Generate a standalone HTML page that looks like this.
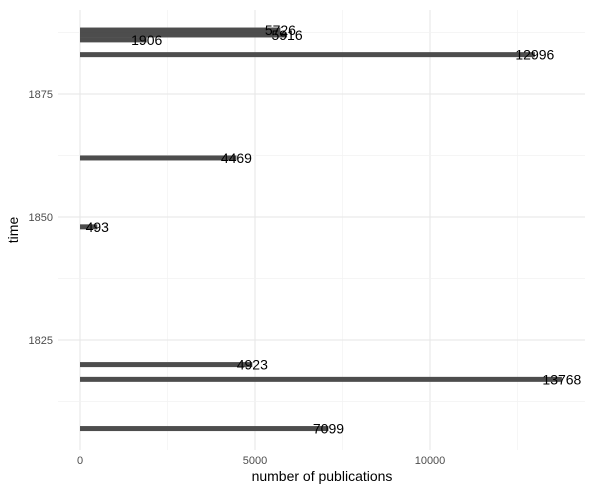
<!DOCTYPE html>
<html><head><meta charset="utf-8"><style>
body{margin:0;background:#fff;}
svg{display:block;font-family:"Liberation Sans",sans-serif;}
</style></head><body>
<svg id="chart" width="592" height="494" viewBox="0 0 592 494">
<g id="grid"></g>
<g id="bars"></g>
<g id="labels"></g>
<g id="axes"></g>
<text x="322" y="481" text-anchor="middle" font-size="14" fill="#000">number of publications</text>
<text transform="translate(18,230) rotate(-90)" text-anchor="middle" font-size="14" fill="#000">time</text>
</svg>
<script>
const years=[1888,1887,1886,1883,1862,1848,1820,1817,1807];
const counts=[5726,5916,1906,12996,4469,493,4923,13768,7099];
const xTicks=[0,5000,10000];
const yTicks=[1825,1850,1875];
const ns="http://www.w3.org/2000/svg";
const X=v=>80+v*0.035;
const Y=t=>217-(t-1850)*4.92;
const L=58,R=585,T=10,B=450;
function mk(tag,attrs,parent){const e=document.createElementNS(ns,tag);for(const k in attrs)e.setAttribute(k,attrs[k]);parent.appendChild(e);return e;}
const g=document.getElementById('grid'),ax=document.getElementById('axes');
xTicks.forEach(v=>{
  const l=mk('line',{x1:X(v),x2:X(v),y1:T,y2:B,stroke:'#e6e6e6','stroke-width':1},g);
  
  
  const m=mk('line',{x1:X(v+2500),x2:X(v+2500),y1:T,y2:B,stroke:'#f2f2f2','stroke-width':0.7},g);
  
  
  const t=mk('text',{x:X(v),y:464,'text-anchor':'middle','font-size':11,fill:'#4d4d4d'},ax);
  t.textContent=v;
  
  
});
[1812.5,1837.5,1862.5,1887.5].forEach(v=>{
  const m=mk('line',{x1:L,x2:R,y1:Y(v),y2:Y(v),stroke:'#f2f2f2','stroke-width':0.7},g);
  
  
});
yTicks.forEach(v=>{
  const l=mk('line',{x1:L,x2:R,y1:Y(v),y2:Y(v),stroke:'#e6e6e6','stroke-width':1},g);
  
  
  const t=mk('text',{x:53,y:Y(v)+4,'text-anchor':'end','font-size':11,fill:'#4d4d4d'},ax);
  t.textContent=v;
  
  
});
const bg=document.getElementById('bars'),lg=document.getElementById('labels');
years.forEach((yr,i)=>{
  const r=mk('rect',{x:X(0),y:Y(yr)-2.5,width:X(counts[i])-X(0),height:5,fill:'#4d4d4d'},bg);
  
  
  const t=mk('text',{x:X(counts[i]),y:Y(yr)+5,'text-anchor':'middle','font-size':14,fill:'#000'},lg);
  t.textContent=counts[i];
  
  
});
</script>
</body></html>
